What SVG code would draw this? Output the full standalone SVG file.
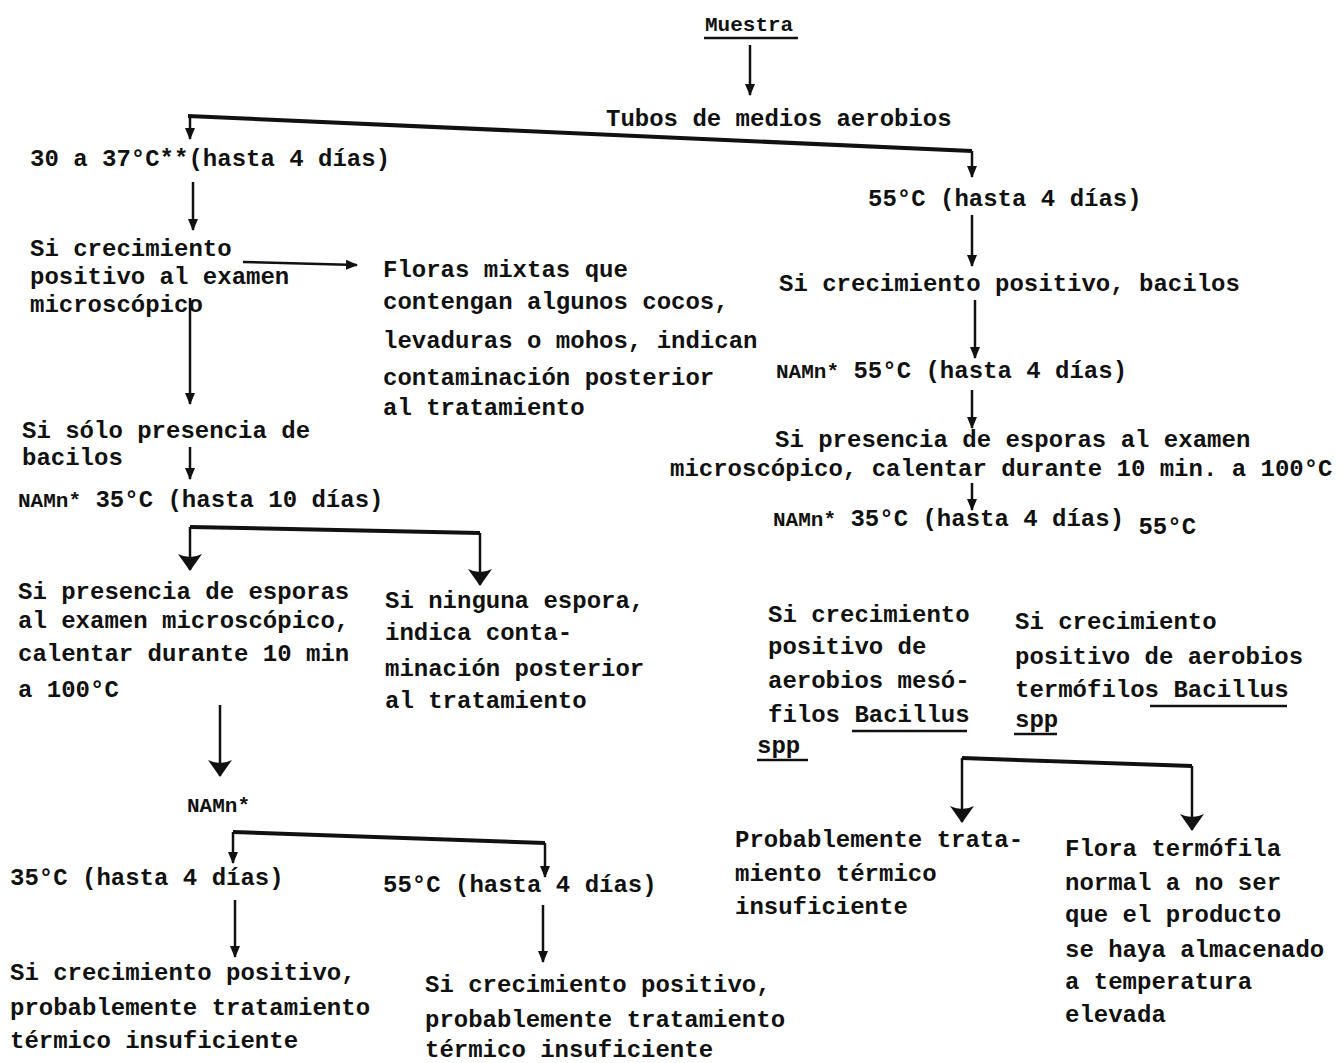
<svg xmlns="http://www.w3.org/2000/svg" width="1343" height="1063" viewBox="0 0 1343 1063">
<style>
text{font-family:"Liberation Mono","DejaVu Sans Mono",monospace;font-size:24px;font-weight:bold;fill:#111}
.sm{font-size:21px}
.ln{stroke:#111;stroke-width:2.5;fill:none}
.br{stroke:#111;stroke-width:4;fill:none}
.ul{stroke:#111;stroke-width:2.5}
</style>
<defs>
<marker id="a" markerUnits="userSpaceOnUse" markerWidth="12" markerHeight="14" refX="11" refY="6" orient="auto"><path d="M0,1 L12,6 L0,11 z" fill="#111"/></marker>
<marker id="b" markerUnits="userSpaceOnUse" markerWidth="18" markerHeight="26" refX="16" refY="13" orient="auto"><path d="M0,1 Q6,13 0,25 L17,13 z" fill="#111"/></marker>
</defs>
<rect width="1343" height="1063" fill="#fff"/>
<g id="connectors">
<path class="ln" d="M750,45 V95" marker-end="url(#a)"/>
<path class="br" d="M188,116 L972,151"/>
<path class="ln" d="M190,116 V139" marker-end="url(#a)"/>
<path class="ln" d="M972,151 V177" marker-end="url(#a)"/>
<path class="ln" d="M193,182 V230" marker-end="url(#a)"/>
<path class="ln" d="M243,262 L357,265" stroke-width="3" marker-end="url(#a)"/>
<path class="ln" d="M190,298 V404" marker-end="url(#a)"/>
<path class="ln" d="M190,447 V479" marker-end="url(#a)"/>
<path class="br" d="M190,527 L480,533"/>
<path class="ln" d="M190,527 V570" marker-end="url(#b)"/>
<path class="ln" d="M480,533 V585" marker-end="url(#b)"/>
<path class="ln" d="M220,705 V776" marker-end="url(#b)"/>
<path class="br" d="M233,832 L545,843"/>
<path class="ln" d="M233,832 V863" marker-end="url(#a)"/>
<path class="ln" d="M545,843 V877" marker-end="url(#a)"/>
<path class="ln" d="M235,900 V957" marker-end="url(#a)"/>
<path class="ln" d="M543,905 V962" marker-end="url(#a)"/>
<path class="ln" d="M972,215 V266" marker-end="url(#a)"/>
<path class="ln" d="M975,300 V358" marker-end="url(#a)"/>
<path class="ln" d="M972,390 V428" marker-end="url(#a)"/>
<path class="ln" d="M972,483 V510" marker-end="url(#a)"/>
<path class="br" d="M962,758 L1192,766"/>
<path class="ln" d="M962,758 V822" marker-end="url(#b)"/>
<path class="ln" d="M1192,766 V830" marker-end="url(#b)"/>
</g>
<g id="muestra"><text x="705" y="31" class="sm">Muestra</text><line class="ul" x1="704" y1="38" x2="798" y2="38"/></g>
<g id="tubos"><text x="606" y="126">Tubos de medios aerobios</text></g>
<g id="t30"><text x="30" y="166">30 a 37°C**(hasta 4 días)</text></g>
<g id="t55"><text x="868" y="206">55°C (hasta 4 días)</text></g>
<g id="sicrec1"><text x="30" y="256">Si crecimiento</text><text x="30" y="284">positivo al examen</text><text x="30" y="312">microscópico</text></g>
<g id="floras"><text x="383" y="277">Floras mixtas que</text><text x="383" y="309">contengan algunos cocos,</text><text x="383" y="348">levaduras o mohos, indican</text><text x="383" y="385">contaminación posterior</text><text x="383" y="415">al tratamiento</text></g>
<g id="sicrec2"><text x="779" y="291">Si crecimiento positivo, bacilos</text></g>
<g id="namn55"><text x="776" y="378"><tspan class="sm">NAMn*</tspan> 55°C (hasta 4 días)</text></g>
<g id="sipres2"><text x="775" y="447">Si presencia de esporas al examen</text><text x="670" y="476">microscópico, calentar durante 10 min. a 100°C</text></g>
<g id="namn35b"><text x="773" y="526"><tspan class="sm">NAMn*</tspan> 35°C (hasta 4 días) <tspan dy="8">55°C</tspan></text></g>
<g id="sisolo"><text x="22" y="438">Si sólo presencia de</text><text x="22" y="465">bacilos</text></g>
<g id="namn35"><text x="18" y="507"><tspan class="sm">NAMn*</tspan> 35°C (hasta 10 días)</text></g>
<g id="sipres1"><text x="18" y="599">Si presencia de esporas</text><text x="18" y="628">al examen microscópico,</text><text x="18" y="661">calentar durante 10 min</text><text x="18" y="697">a 100°C</text></g>
<g id="ninguna"><text x="385" y="608">Si ninguna espora,</text><text x="385" y="640">indica  conta-</text><text x="385" y="676">minación posterior</text><text x="385" y="708">al tratamiento</text></g>
<g id="meso"><text x="768" y="622">Si crecimiento</text><text x="768" y="654">positivo de</text><text x="768" y="688">aerobios mesó-</text><text x="768" y="722">filos Bacillus</text><text x="757" y="753">spp</text>
<line class="ul" x1="852" y1="731" x2="967" y2="731"/><line class="ul" x1="757" y1="760" x2="808" y2="760"/></g>
<g id="termo"><text x="1015" y="629">Si crecimiento</text><text x="1015" y="664">positivo de aerobios</text><text x="1015" y="697">termófilos Bacillus</text><text x="1015" y="727">spp</text>
<line class="ul" x1="1150" y1="706" x2="1287" y2="706"/><line class="ul" x1="1014" y1="734" x2="1057" y2="734"/></g>
<g id="probtrat"><text x="735" y="847">Probablemente trata-</text><text x="735" y="881">miento térmico</text><text x="735" y="914">insuficiente</text></g>
<g id="flora"><text x="1065" y="856">Flora termófila</text><text x="1065" y="890">normal a no ser</text><text x="1065" y="922">que el producto</text><text x="1065" y="957">se haya almacenado</text><text x="1065" y="989">a temperatura</text><text x="1065" y="1022">elevada</text></g>
<g id="namn"><text x="187" y="812" class="sm">NAMn*</text></g>
<g id="c35"><text x="10" y="885">35°C (hasta 4 días)</text></g>
<g id="c55"><text x="383" y="892">55°C (hasta 4 días)</text></g>
<g id="res35"><text x="10" y="980">Si crecimiento positivo,</text><text x="10" y="1015">probablemente tratamiento</text><text x="10" y="1048">térmico insuficiente</text></g>
<g id="res55"><text x="425" y="992">Si crecimiento positivo,</text><text x="425" y="1027">probablemente tratamiento</text><text x="425" y="1057">térmico insuficiente</text></g>
</svg>
